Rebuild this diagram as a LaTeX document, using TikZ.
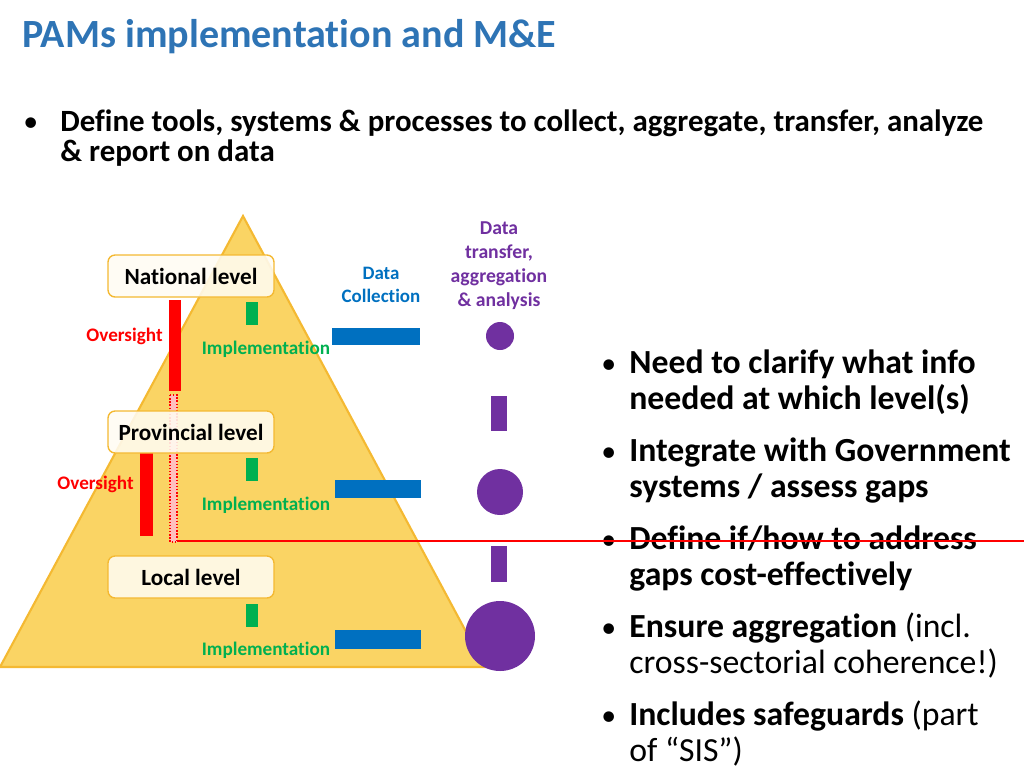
\documentclass[tikz,border=0pt]{standalone}
\usepackage{fontspec}
\setmainfont[Ligatures=NoCommon]{Carlito}
\definecolor{titleblue}{RGB}{46,116,181}
\definecolor{pyrfill}{RGB}{250,212,100}
\definecolor{pyredge}{RGB}{244,185,50}
\definecolor{boxfill}{RGB}{255,252,242}
\definecolor{implgreen}{RGB}{0,176,80}
\definecolor{collblue}{RGB}{0,112,192}
\definecolor{aggpurple}{RGB}{112,48,160}
\definecolor{overred}{RGB}{255,0,0}

\begin{document}
\begin{tikzpicture}[x=0.02cm,y=-0.02cm,
  lvl/.style={draw=pyredge,fill=boxfill,fill opacity=0.88,text opacity=1,line width=0.8pt,rounded corners=4pt,
    minimum width=3.32cm,minimum height=0.84cm,inner sep=0pt,font=\fontsize{13.2}{15}\selectfont\bfseries},
  lbl/.style={inner sep=0pt,font=\fontsize{10.9}{12}\selectfont\bfseries},
  bul/.style={anchor=base west,inner sep=0pt,align=left,font=\fontsize{19.2}{20.4}\selectfont}]
  \useasboundingbox (0,0) rectangle (1024,768);

  % title and first bullet
  \node[anchor=base west,inner sep=0pt,text=titleblue,font=\fontsize{22.8}{26}\selectfont\bfseries] (title) at (22,47) {PAMs implementation and M\&E};
  \node[anchor=base west,inner sep=0pt,font=\fontsize{17}{18}\selectfont] (dot0) at (23,131) {•};
  \node[anchor=base west,inner sep=0pt,align=left,font=\fontsize{17.6}{17}\selectfont\bfseries] (define) at (60,161)
    {Define tools, systems \& processes to collect, aggregate, transfer, analyze\\\& report on data};

  % pyramid
  \filldraw[fill=pyrfill,draw=pyredge,line width=1.2pt] (243,216) -- (485,667) -- (0,667) -- cycle;

  % oversight
  \fill[overred] (169,300) rectangle (181,391);
  \fill[overred] (140,453) rectangle (153,536);
  \filldraw[fill=overred!25,draw=overred,densely dotted,line width=0.8pt] (170,395) rectangle (177,542);
  \coordinate (feed) at (177,541);
  \coordinate (rimend) at (1024,541);
  \node[lbl,text=overred,anchor=east] (over1) at (163,336) {Oversight};
  \node[lbl,text=overred,anchor=east] (over2) at (134,484) {Oversight};

  \node[lvl] (national) at (191,276) {National level};
  \node[lvl] (provincial) at (191,432) {Provincial level};
  \node[lvl] (local) at (191,577) {Local level};

  % implementation
  \foreach \y/\ly in {302/349,458/505,604/650}{
    \fill[implgreen] (246,\y) rectangle (258,\y+23);
    \node[lbl,text=implgreen] at (266,\ly) {Implementation};
  }

  % data collection
  \node[lbl,text=collblue,align=center,font=\fontsize{10.8}{13}\selectfont\bfseries] (coll) at (381,285) {Data\\Collection};
  \fill[collblue] (332,328) rectangle (420,345);
  \fill[collblue] (335,480) rectangle (421,498);
  \fill[collblue] (335,630) rectangle (421,649);

  % aggregation
  \node[lbl,text=aggpurple,align=center,font=\fontsize{11.2}{13.6}\selectfont\bfseries] (agg) at (499,266) {Data\\transfer,\\aggregation\\\& analysis};
  \fill[aggpurple] (500,336) circle (14);
  \fill[aggpurple] (491,396) rectangle (507,431);
  \fill[aggpurple] (500,492) circle (23);
  \fill[aggpurple] (491,546) rectangle (507,582);
  \fill[aggpurple] (500,636) circle (35);

  % right bullets
  \foreach \y in {373,461,549,637,725}
    \node[bul,font=\fontsize{17}{20.4}\selectfont] at (601,\y) {•};
  \node[bul,font=\fontsize{19.2}{20.4}\selectfont\bfseries] (need) at (629,409) {Need to clarify what info\\needed at which level(s)};
  \node[bul,font=\fontsize{19.2}{20.4}\selectfont\bfseries] (integ) at (629,497) {Integrate with Government\\systems / assess gaps};
  \node[bul,font=\fontsize{19.2}{20.4}\selectfont\bfseries] (defif) at (629,585) {Define if/how to address\\gaps cost-effectively};
  \node[bul] (ensure) at (629,673) {\textbf{Ensure aggregation} (incl.\\cross-sectorial coherence!)};
  \node[bul] (incl) at (629,761) {\textbf{Includes safeguards} (part\\of “SIS”)};

  \draw[overred,line width=0.8pt] (feed) -- (rimend);
\end{tikzpicture}
\end{document}
